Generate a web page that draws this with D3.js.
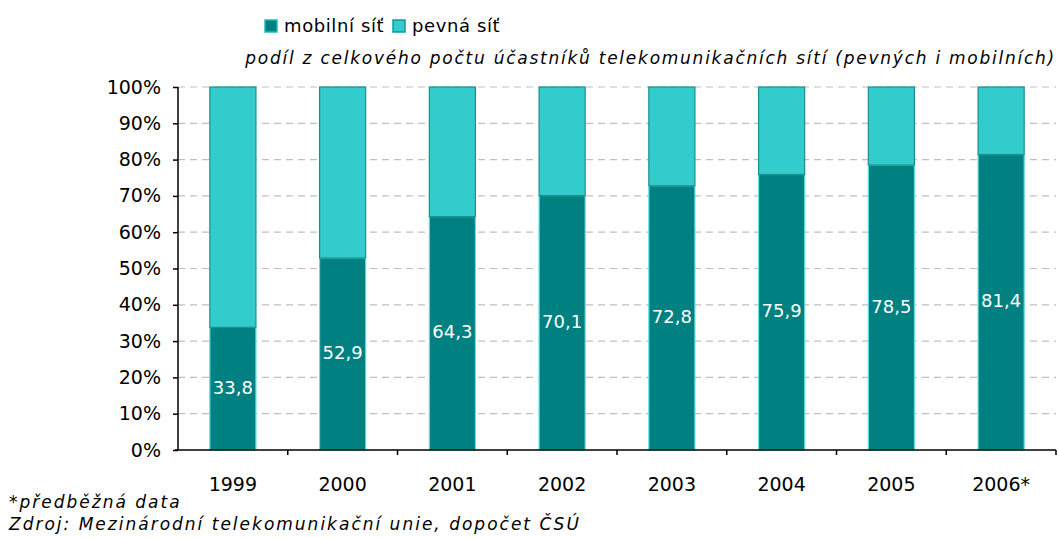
<!DOCTYPE html>
<html>
<head>
<meta charset="utf-8">
<script src="https://cdn.jsdelivr.net/npm/d3@7"></script>
<style>
  body { margin: 0; background: #fff; }
  svg { font-family: "DejaVu Sans", Verdana, sans-serif; }
</style>
</head>
<body>
<div id="chart"></div>
<script>
// data
const years = ['1999', '2000', '2001', '2002', '2003', '2004', '2005', '2006*'];
const mobile = [33.8, 52.9, 64.3, 70.1, 72.8, 75.9, 78.5, 81.4];
const fixed = mobile.map(v => +(100 - v).toFixed(1));
const yTicks = [0, 10, 20, 30, 40, 50, 60, 70, 80, 90, 100];
const seriesNames = ['mobilní síť', 'pevná síť'];
const seriesColors = ['#008080', '#33CCCC'];

const width = 1058, height = 538;
const margin = { top: 87, right: 2, bottom: 88, left: 178 };

const svg = d3.select('#chart').append('svg')
  .attr('width', width)
  .attr('height', height);

const x = d3.scaleBand()
  .domain(years)
  .range([margin.left, width - margin.right])
  .paddingInner(0.58)
  .paddingOuter(0.29);

const y = d3.scaleLinear()
  .domain([0, 100])
  .range([height - margin.bottom, margin.top]);

// dashed grid
svg.append('g')
  .selectAll('line')
  .data(yTicks.filter(t => t > 0))
  .enter()
  .append('line')
  .attr('x1', margin.left)
  .attr('x2', width - margin.right)
  .attr('y1', d => y(d))
  .attr('y2', d => y(d))
  .attr('stroke', '#c0c0c0')
  .attr('stroke-width', 1.2)
  .attr('stroke-dasharray', '7,5');

// stacked bars
const rows = years.map((yr, i) => ({ year: yr, mobile: mobile[i], fixed: fixed[i] }));
const stack = d3.stack().keys(['mobile', 'fixed'])(rows);
const strokes = ['#5fe0e0', '#1a8f8f'];

stack.forEach((layer, li) => {
  svg.append('g')
    .selectAll('rect')
    .data(layer)
    .enter()
    .append('rect')
    .attr('x', d => x(d.data.year))
    .attr('y', d => y(d[1]))
    .attr('width', x.bandwidth())
    .attr('height', d => y(d[0]) - y(d[1]))
    .attr('fill', seriesColors[li])
    .attr('stroke', strokes[li])
    .attr('stroke-width', 1.2);
});

// value labels in mobile segment
svg.append('g')
  .selectAll('text')
  .data(stack[0])
  .enter()
  .append('text')
  .attr('x', d => x(d.data.year) + x.bandwidth() / 2)
  .attr('y', d => (y(d[0]) + y(d[1])) / 2)
  .attr('text-anchor', 'middle')
  .attr('dominant-baseline', 'middle')
  .attr('fill', '#fff')
  .style('font-size', '18px')
  .text(d => String(d.data.mobile).replace('.', ','));

// y axis
const yAxis = d3.axisLeft(y)
  .tickValues(yTicks)
  .tickSize(5)
  .tickFormat(d => d + '%');
const yg = svg.append('g')
  .attr('transform', `translate(${margin.left},0)`)
  .call(yAxis);
yg.select('.domain').attr('stroke', '#000').attr('stroke-width', 1.5).attr('d', `M0,${y(0)}V${y(100)}`);
yg.selectAll('.tick line').attr('stroke', '#000').attr('stroke-width', 1.5);
yg.selectAll('.tick text')
  .attr('x', -17)
  .attr('fill', '#000')
  .style('font-size', '19px')
  .style('font-family', '"DejaVu Sans", Verdana, sans-serif');

// x axis with ticks between categories
const xg = svg.append('g').attr('transform', `translate(0,${y(0)})`);
xg.append('line')
  .attr('x1', margin.left - 3)
  .attr('x2', width - margin.right)
  .attr('stroke', '#000')
  .attr('stroke-width', 1.5);
xg.selectAll('line.tk')
  .data(d3.range(1, years.length + 1))
  .enter()
  .append('line')
  .attr('class', 'tk')
  .attr('x1', i => margin.left + i * x.step())
  .attr('x2', i => margin.left + i * x.step())
  .attr('y1', 0)
  .attr('y2', 5)
  .attr('stroke', '#000')
  .attr('stroke-width', 1.5);
xg.selectAll('text')
  .data(years)
  .enter()
  .append('text')
  .attr('x', d => x(d) + x.bandwidth() / 2)
  .attr('y', 41)
  .attr('text-anchor', 'middle')
  .style('font-size', '19px')
  .text(d => d);

// legend
const legend = svg.append('g');
const legX = [265, 393];
seriesNames.forEach((name, i) => {
  legend.append('rect')
    .attr('x', legX[i])
    .attr('y', 20)
    .attr('width', 12)
    .attr('height', 12)
    .attr('fill', seriesColors[i])
    .attr('stroke', i === 0 ? '#2ab5b5' : '#0f9a9a')
    .attr('stroke-width', 1.5);
  legend.append('text')
    .attr('x', legX[i] + 19)
    .attr('y', 32)
    .style('font-size', '18px')
    .style('letter-spacing', '0.6px')
    .text(name);
});

// subtitle
svg.append('text')
  .attr('x', width - 2)
  .attr('y', 64)
  .attr('text-anchor', 'end')
  .style('font-size', '17px')
  .style('font-style', 'italic')
  .style('letter-spacing', '1.75px')
  .text('podíl z celkového počtu účastníků telekomunikačních sítí (pevných i mobilních)');

// footnotes
svg.append('text')
  .attr('x', 9)
  .attr('y', 508)
  .style('font-size', '17px')
  .style('font-style', 'italic')
  .style('letter-spacing', '2px')
  .text('*předběžná data');
svg.append('text')
  .attr('x', 9)
  .attr('y', 530)
  .style('font-size', '17px')
  .style('font-style', 'italic')
  .style('letter-spacing', '2px')
  .text('Zdroj: Mezinárodní telekomunikační unie, dopočet ČSÚ');
</script>
</body>
</html>
